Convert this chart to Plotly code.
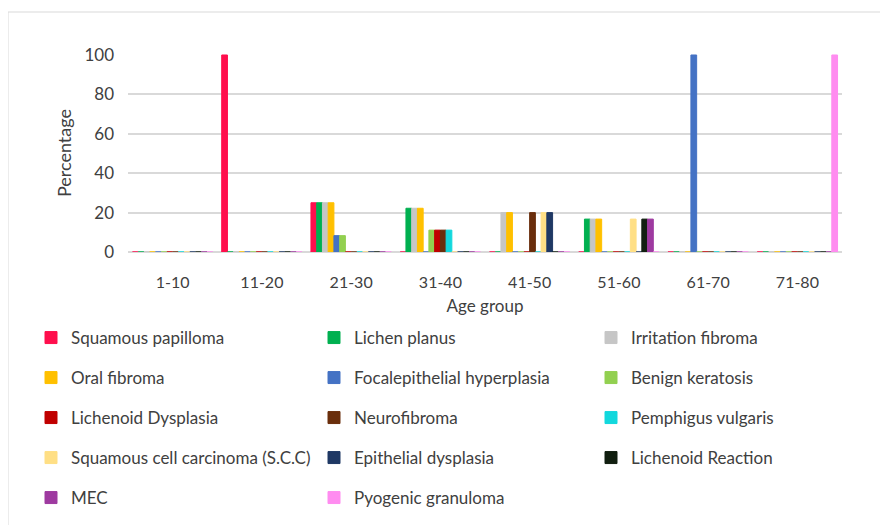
import plotly.graph_objects as go

age_groups = ["1-10", "11-20", "21-30", "31-40", "41-50", "51-60", "61-70", "71-80"]

lesions = [
    "Squamous papilloma", "Lichen planus", "Irritation fibroma",
    "Oral fibroma", "Focalepithelial hyperplasia", "Benign keratosis",
    "Lichenoid Dysplasia", "Neurofibroma", "Pemphigus vulgaris",
    "Squamous cell carcinoma (S.C.C)", "Epithelial dysplasia", "Lichenoid Reaction",
    "MEC", "Pyogenic granuloma",
]

squamous_papilloma = [0, 100, 25, 0, 0, 0, 0, 0]
lichen_planus = [0, 0, 25, 22.2, 0, 16.7, 0, 0]
irritation_fibroma = [0, 0, 25, 22.2, 20, 16.7, 0, 0]
oral_fibroma = [0, 0, 25, 22.2, 20, 16.7, 0, 0]
focal_epithelial_hyperplasia = [0, 0, 8.3, 0, 0, 0, 100, 0]
benign_keratosis = [0, 0, 8.3, 11.1, 0, 0, 0, 0]
lichenoid_dysplasia = [0, 0, 0, 11.1, 0, 0, 0, 0]
neurofibroma = [0, 0, 0, 11.1, 20, 0, 0, 0]
pemphigus_vulgaris = [0, 0, 0, 11.1, 0, 0, 0, 0]
scc = [0, 0, 0, 0, 20, 16.7, 0, 0]
epithelial_dysplasia = [0, 0, 0, 0, 20, 0, 0, 0]
lichenoid_reaction = [0, 0, 0, 0, 0, 16.7, 0, 0]
mec = [0, 0, 0, 0, 0, 16.7, 0, 0]
pyogenic_granuloma = [0, 0, 0, 0, 0, 0, 0, 100]

series_values = [
    squamous_papilloma, lichen_planus, irritation_fibroma,
    oral_fibroma, focal_epithelial_hyperplasia, benign_keratosis,
    lichenoid_dysplasia, neurofibroma, pemphigus_vulgaris,
    scc, epithelial_dysplasia, lichenoid_reaction,
    mec, pyogenic_granuloma,
]

colors = [
    "#FF0F4D", "#00B050", "#C6C6C6",
    "#FFC000", "#4472C4", "#92D050",
    "#C00000", "#6A2E0C", "#12D8DD",
    "#FFDF85", "#1F3864", "#111F10",
    "#9E3AA0", "#FF8CF0",
]

y_ticks = [0, 20, 40, 60, 80, 100]

FONT = "Lato, Calibri, sans-serif"
TEXT = "#404040"

W, H = 880, 517
row_y = [330, 370, 410, 450, 490]
col_x = [23, 306, 583]

fig = go.Figure()
legend_cfg = {}
for i, (name, vals, col) in enumerate(zip(lesions, series_values, colors)):
    row, c = divmod(i, 3)
    key = "legend" if i == 0 else f"legend{i + 1}"
    fig.add_trace(go.Bar(
        x=age_groups, y=vals, name=name,
        marker=dict(color=col, line=dict(color=col, width=1)),
        legend=key, showlegend=True,
    ))
    legend_cfg[key] = dict(
        orientation="h", xref="container", yref="container",
        x=col_x[c] / W, xanchor="left", y=1 - row_y[row] / H, yanchor="middle",
        font=dict(family=FONT, size=17, color=TEXT),
        bgcolor="rgba(0,0,0,0)",
        itemclick=False, itemdoubleclick=False,
    )

fig.update_layout(
    width=W, height=H, showlegend=True,
    barmode="group", bargap=0.1, bargroupgap=0,
    paper_bgcolor="white", plot_bgcolor="white",
    margin=dict(l=120, r=46, t=46, b=273, autoexpand=False),
    font=dict(family=FONT, size=15, color=TEXT),
    xaxis=dict(
        title=dict(text="Age group", font=dict(size=17, color=TEXT), standoff=10),
        showgrid=False, showline=False, ticks="", ticklabelstandoff=19,
        tickfont=dict(size=16, color=TEXT),
    ),
    yaxis=dict(
        title=dict(text="Percentage", font=dict(size=18, color=TEXT), standoff=8),
        range=[0, 100.5], tickvals=y_ticks,
        showgrid=True, gridcolor="#D9D9D9", gridwidth=1.5,
        zeroline=True, zerolinecolor="#D9D9D9", zerolinewidth=1.5,
        showline=False, ticks="", ticklabelstandoff=13,
        tickfont=dict(size=17, color=TEXT),
    ),
    shapes=[dict(
        type="rect", xref="paper", yref="paper",
        x0=(0 - 120) / 714, x1=(900 - 120) / 714,
        y0=(244 - 540) / 198, y1=(244 - 4) / 198,
        line=dict(color="#D9D9D9", width=1), fillcolor="rgba(0,0,0,0)", layer="below",
    )],
    **legend_cfg,
)

fig.write_html("out.html")
